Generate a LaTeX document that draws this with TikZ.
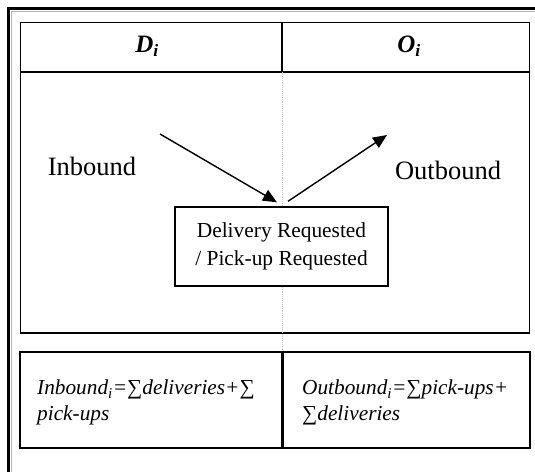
\documentclass[tikz,border=0pt]{standalone}
\usepackage{fontspec}
\setmainfont{Liberation Serif}
\usetikzlibrary{arrows.meta}

\begin{document}
\begin{tikzpicture}[x=1pt,y=-1pt]
        \tikzstyle{every node}=[inner sep=0pt]
        \tikzstyle{flow}=[line width=1.4pt,-{Triangle[length=14pt,width=12pt]}]
        \tikzstyle{frame}=[line width=1.6pt]
        \tikzstyle{head}=[font=\fontsize{25}{30}\selectfont\bfseries\itshape]
        \tikzstyle{side}=[font=\fontsize{26.5}{30}\selectfont]
        \tikzstyle{formula}=[font=\fontsize{21.3}{25.5}\selectfont\itshape,align=left,anchor=north west]
        \useasboundingbox (0,0) rectangle (535,471);
        % outer frame
        \draw[line width=2.6pt] (8.5,480) -- (8.5,8.5) -- (545,8.5);
        \draw[gray!60,line width=0.8pt] (11,480) -- (11,11) -- (545,11);
        % upper table
        \draw[frame] (20.5,22.5) rectangle (529.5,333);
        \draw[frame] (20.5,72) -- (529.5,72);
        \draw[frame] (282,22.5) -- (282,72);
        \draw[gray!45,line width=0.9pt,densely dotted] (282.5,72) -- (282.5,352);
        \node[head] (d) at (147,46) {D\textsubscript{i}};
        \node[head] (o) at (409,46) {O\textsubscript{i}};
        \node[side] (in) at (92,166) {Inbound};
        \node[side] (out) at (448,170) {Outbound};
        \node[draw,fill=white,line width=1.4pt,minimum width=213pt,minimum height=79pt,
              align=center,font=\fontsize{21.4}{28}\selectfont] (req) at (281.5,246.5)
              {Delivery Requested\\/ Pick-up Requested};
        \coordinate (inA) at (160,134);
        \coordinate (outB) at (387,135);
        \draw[flow] (inA) -- ([xshift=-4.5pt,yshift=4pt]req.north);
        \draw[flow] ([xshift=6.5pt,yshift=5pt]req.north) -- (outB);
        % lower table
        \draw[line width=2pt] (19.5,352) rectangle (529.5,448);
        \draw[line width=3pt] (282,352) -- (282,448);
        \node[formula] (sumin) at (37,380)
              {Inbound\textsubscript{i}=∑deliveries+∑\\pick-ups};
        \node[formula] (sumout) at (302,380)
              {Outbound\textsubscript{i}=∑pick-ups+\\∑deliveries};
\end{tikzpicture}
\end{document}
